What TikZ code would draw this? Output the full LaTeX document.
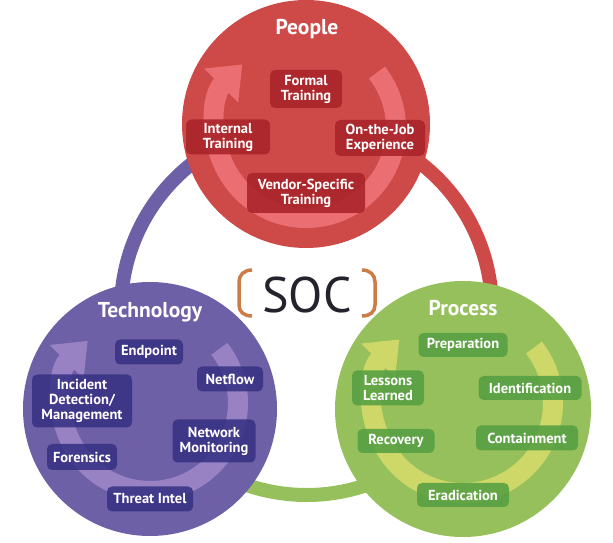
\documentclass[tikz,border=0pt]{standalone}
\usepackage{fontspec}
\setmainfont{PT Sans}
\usetikzlibrary{arrows.meta}
\definecolor{pcirc}{RGB}{206,74,72}
\definecolor{pbox}{RGB}{168,36,42}
\definecolor{parr}{RGB}{234,110,114}
\definecolor{tcirc}{RGB}{110,96,166}
\definecolor{tbox}{RGB}{56,50,132}
\definecolor{tarr}{RGB}{152,130,196}
\definecolor{rcirc}{RGB}{150,192,92}
\definecolor{rbox}{RGB}{86,160,66}
\definecolor{rarr}{RGB}{206,216,104}
\definecolor{socc}{RGB}{35,35,45}
\definecolor{brk}{RGB}{204,124,72}
\tikzset{
  lbl/.style={rounded corners=5pt, fill opacity=0.88, text opacity=1, text=white,
    font=\fontsize{14.5}{15}\selectfont\bfseries, align=center, inner sep=2pt},
  title/.style={text=white, font=\fontsize{21.5}{23}\selectfont\bfseries},
  ring/.style={line width=14pt},
  cyc/.style={line width=20pt, -{Triangle[width=46pt,length=30pt]}},
}
\begin{document}
\begin{tikzpicture}[x=1pt,y=1pt]
\useasboundingbox (0,0) rectangle (613,543);
\coordinate (C) at (306.5,233.5);
% ring
\draw[ring, tcirc] (C) ++(90:185.5) arc[start angle=90, end angle=212.4, radius=185.5];
\draw[ring, pcirc] (C) ++(-32.4:185.5) arc[start angle=-32.4, end angle=90, radius=185.5];
\draw[ring, rcirc] (C) ++(212.4:185.5) arc[start angle=212.4, end angle=327.6, radius=185.5];
% circles
\fill[pcirc] (306,419) circle[radius=124];
\fill[tcirc] (150,134) circle[radius=127];
\fill[rcirc] (463,134) circle[radius=128];
% cycle arrows
\draw[cyc, parr] (306,415) ++(38:90) arc[start angle=38, end angle=-225, radius=90];
\draw[cyc, tarr] (150,140) ++(38:88) arc[start angle=38, end angle=-225, radius=88];
\draw[cyc, rarr] (463,140) ++(38:90) arc[start angle=38, end angle=-225, radius=90];
% titles
\node[title] (tp) at (307,514) {People};
\node[title] (tt) at (150,231) {Technology};
\node[title] (tr) at (463,235) {Process};
% people
\node[lbl, fill=pbox, minimum width=72pt, minimum height=38pt] (formal) at (306,454) {Formal\\Training};
\node[lbl, fill=pbox, minimum width=84pt, minimum height=35pt] (internal) at (228,406) {Internal\\Training};
\node[lbl, fill=pbox, minimum width=90pt, minimum height=36pt] (onjob) at (380,405) {On-the-Job\\Experience};
\node[lbl, fill=pbox, minimum width=118pt, minimum height=40pt] (vendor) at (306,350) {Vendor-Specific\\Training};
% technology
\node[lbl, fill=tbox, minimum width=68pt, minimum height=25pt] (endpoint) at (149,191) {Endpoint};
\node[lbl, fill=tbox, minimum width=66pt, minimum height=25pt] (netflow) at (230,164) {Netflow};
\node[lbl, fill=tbox, minimum width=100pt, minimum height=53pt] (incident) at (82,142) {Incident\\Detection/\\Management};
\node[lbl, fill=tbox, minimum width=83pt, minimum height=43pt] (netmon) at (214,102) {Network\\Monitoring};
\node[lbl, fill=tbox, minimum width=70pt, minimum height=26pt] (forensics) at (82,86) {Forensics};
\node[lbl, fill=tbox, minimum width=86pt, minimum height=25pt] (threat) at (150,44) {Threat Intel};
% process
\node[lbl, fill=rbox, minimum width=89pt, minimum height=24pt] (prep) at (463,198) {Preparation};
\node[lbl, fill=rbox, minimum width=103pt, minimum height=24pt] (ident) at (530,155) {Identification};
\node[lbl, fill=rbox, minimum width=72pt, minimum height=35pt] (lessons) at (388,155) {Lessons\\Learned};
\node[lbl, fill=rbox, minimum width=77pt, minimum height=24pt] (recovery) at (396,102) {Recovery};
\node[lbl, fill=rbox, minimum width=102pt, minimum height=25pt] (contain) at (527,105) {Containment};
\node[lbl, fill=rbox, minimum width=92pt, minimum height=24pt] (erad) at (463,48) {Eradication};
% SOC
\node[text=socc, font=\fontsize{50}{52}\selectfont] (soc) at (307,248) {SOC};
\draw[brk, line width=3.5pt] (252,273) .. controls (244,273) and (239,268) .. (239,261) -- (239,238) .. controls (239,231) and (244,227) .. (252,227);
\draw[brk, line width=3.5pt] (362,273) .. controls (370,273) and (375,268) .. (375,261) -- (375,238) .. controls (375,231) and (370,227) .. (362,227);
\end{tikzpicture}
\end{document}
